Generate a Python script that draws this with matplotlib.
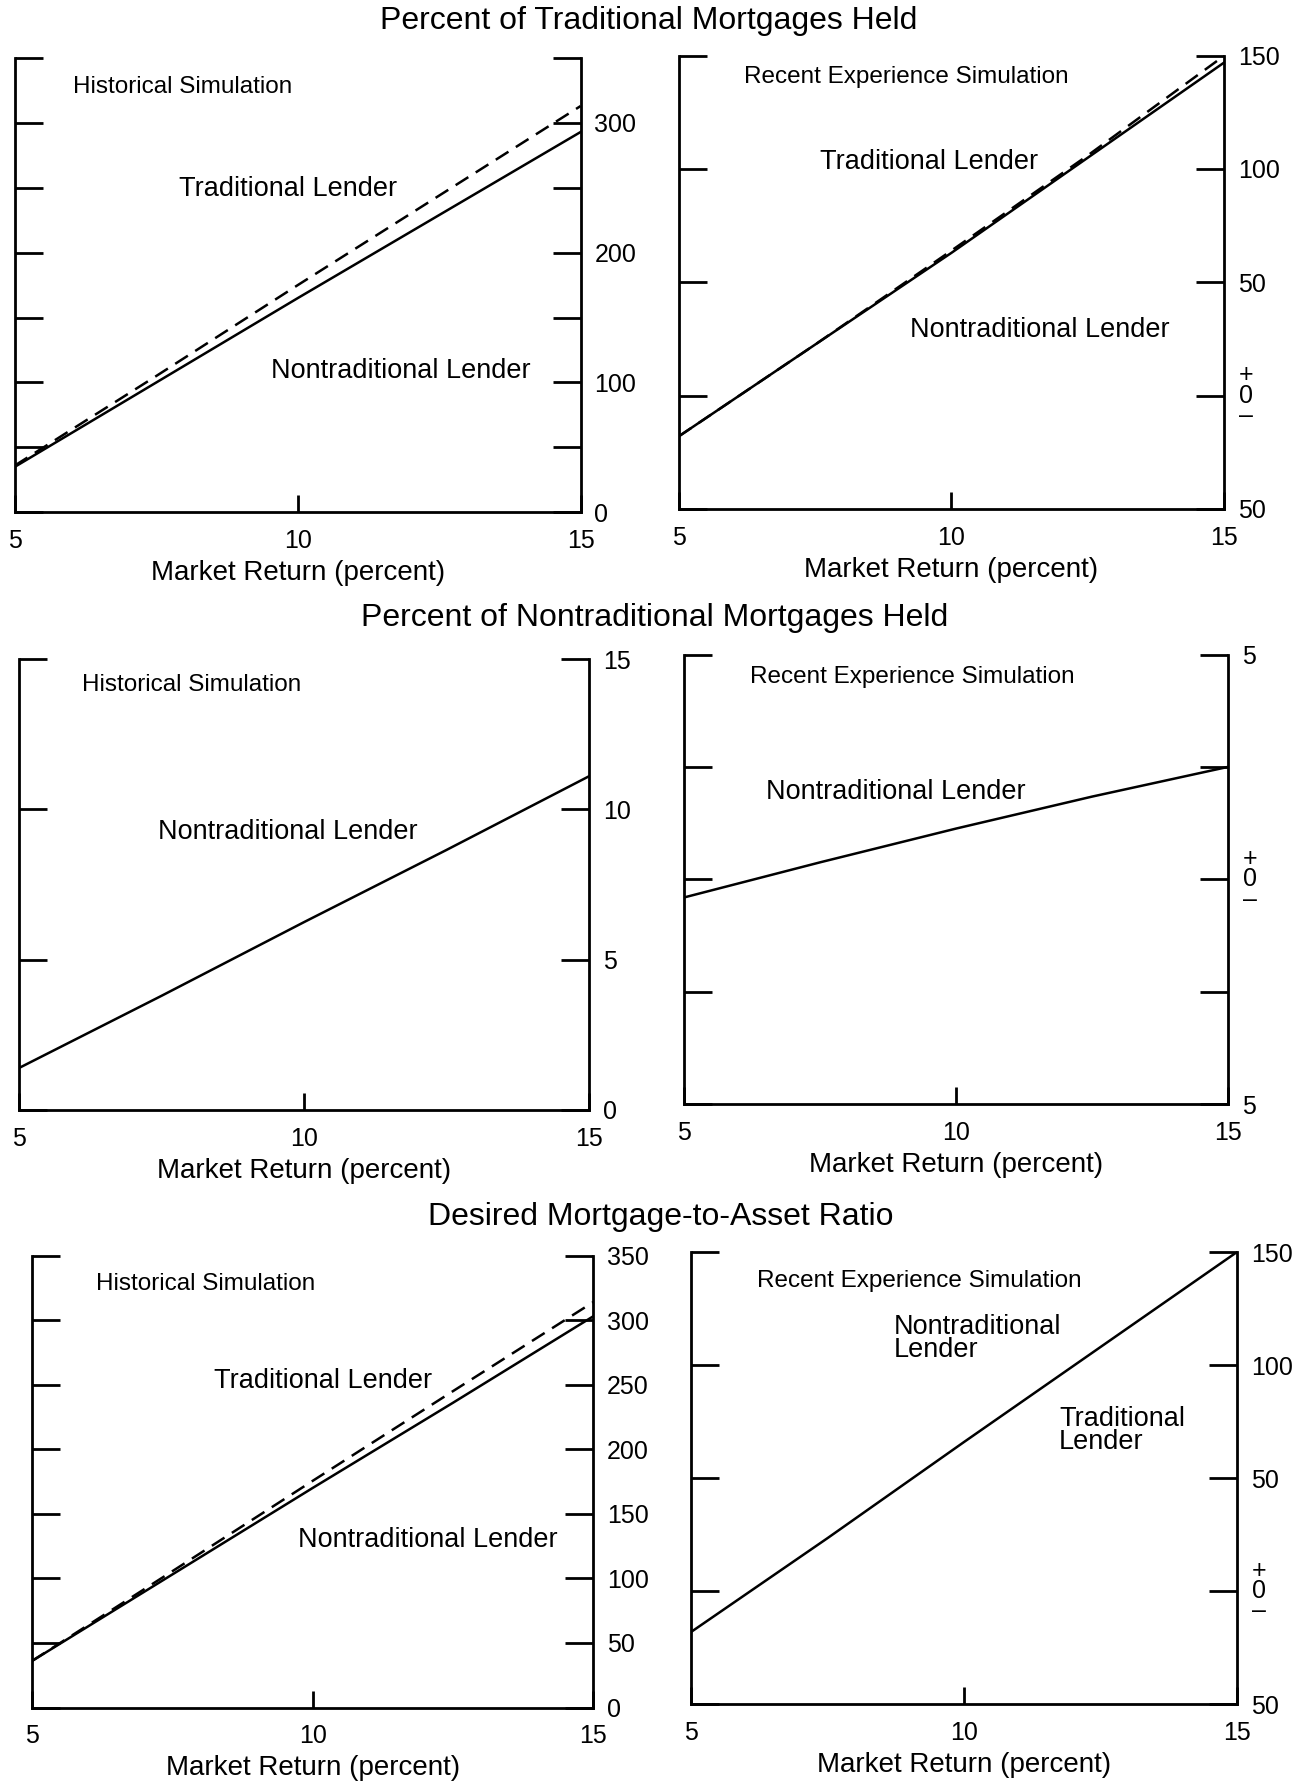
import matplotlib
matplotlib.use("Agg")
import matplotlib.pyplot as plt

plt.rcParams['font.family'] = ['Liberation Sans', 'DejaVu Sans']

# market return (percent)
market_return = [5, 7.5, 10, 12.5, 15]

# Percent of traditional mortgages held
trad_hist_solid = [35, 100, 165, 229, 293]
trad_hist_dashed = [36, 105, 175, 244, 313]
trad_recent_solid = [-18, 22.5, 63, 105, 147]
trad_recent_dashed = [-18, 22.5, 64, 106, 150]

# Percent of nontraditional mortgages held
nontrad_hist = [1.4, 3.8, 6.25, 8.65, 11.1]
nontrad_recent = [-0.4, 0.38, 1.13, 1.84, 2.5]

# Desired mortgage-to-asset ratio
ratio_hist_solid = [36, 103, 170, 236, 303]
ratio_hist_dashed = [36, 105.5, 175.5, 245, 314]
ratio_recent = [-18, 23.5, 66, 108, 150]

# y ticks and right-hand labels ('ZERO' = stacked "+0-" sign)
hist_trad_ticks = [0, 50, 100, 150, 200, 250, 300, 350]
hist_trad_labels = ['0', '', '100', '', '200', '', '300', '']
recent_ticks = [-50, 0, 50, 100, 150]
recent_labels = ['50', 'ZERO', '50', '100', '150']
hist_nontrad_ticks = [0, 5, 10, 15]
hist_nontrad_labels = ['0', '5', '10', '15']
recent_nontrad_ticks = [-5, -2.5, 0, 2.5, 5]
recent_nontrad_labels = ['5', '', 'ZERO', '', '5']
ratio_hist_ticks = [0, 50, 100, 150, 200, 250, 300, 350]
ratio_hist_labels = ['0', '50', '100', '150', '200', '250', '300', '350']

fig = plt.figure(figsize=(12.96, 17.85), dpi=100)


def panel(rect, ticks, labels, title_text, title_xy, notes):
    ax = fig.add_axes(rect)
    ax.set_xlim(5, 15)
    ax.set_ylim(ticks[0], ticks[-1])
    ax.spines['top'].set_visible(False)
    for s in ['left', 'right', 'bottom']:
        ax.spines[s].set_linewidth(2)
    ax.set_xticks([5, 10, 15], ['5', '10', '15'])
    ax.tick_params(axis='x', direction='in', length=12, width=2, pad=12, labelsize=18)
    shown = ['' if l == 'ZERO' else l for l in labels]
    ax.set_yticks(ticks, shown)
    ax.tick_params(axis='y', direction='in', length=20, width=2, pad=10,
                   left=True, right=True, labelleft=False, labelright=True,
                   labelsize=18)
    if 'ZERO' in labels:
        # stacked "+ / 0 / -" label at the zero line
        ax.annotate('+\n0\n\u2013', xy=(1, 0), xycoords=ax.get_yaxis_transform(),
                    xytext=(16, 0), textcoords='offset points',
                    ha='center', va='center', multialignment='center',
                    fontsize=18, linespacing=0.8)
    ax.set_xlabel('Market Return (percent)', fontsize=20, labelpad=5)
    ax.text(title_xy[0], title_xy[1], title_text, fontsize=17.5,
            ha='left', va='center')
    for x, y, txt, ha in notes:
        ax.text(x, y, txt, fontsize=19.5, ha=ha, va='center', linespacing=0.85)
    return ax


dash = (0, (6, 3.5))

# top row
ax = panel([0.0114, 0.713, 0.4366, 0.2545], hist_trad_ticks, hist_trad_labels,
           'Historical Simulation', (6.03, 328),
           [(9.83, 249, 'Traditional Lender', 'center'),
            (11.82, 109, 'Nontraditional Lender', 'center')])
ax.plot(market_return, trad_hist_solid, color='black', lw=1.8)
ax.plot(market_return, trad_hist_dashed, color='black', lw=1.8, linestyle=dash)

ax = panel([0.5237, 0.7149, 0.4209, 0.2539], recent_ticks, recent_labels,
           'Recent Experience Simulation', (6.2, 140.5),
           [(9.59, 103, 'Traditional Lender', 'center'),
            (11.62, 29, 'Nontraditional Lender', 'center')])
ax.plot(market_return, trad_recent_solid, color='black', lw=1.8)
ax.plot(market_return, trad_recent_dashed, color='black', lw=1.8, linestyle=dash)

# middle row
ax = panel([0.0149, 0.3782, 0.4394, 0.2525], hist_nontrad_ticks, hist_nontrad_labels,
           'Historical Simulation', (6.1, 14.13),
           [(9.72, 9.24, 'Nontraditional Lender', 'center')])
ax.plot(market_return, nontrad_hist, color='black', lw=1.8)

ax = panel([0.5281, 0.3814, 0.4192, 0.2519], recent_nontrad_ticks, recent_nontrad_labels,
           'Recent Experience Simulation', (6.2, 4.49),
           [(8.9, 1.94, 'Nontraditional Lender', 'center')])
ax.plot(market_return, nontrad_recent, color='black', lw=1.8)

# bottom row
ax = panel([0.0246, 0.0434, 0.4332, 0.2532], ratio_hist_ticks, ratio_hist_labels,
           'Historical Simulation', (6.15, 328),
           [(10.19, 253, 'Traditional Lender', 'center'),
            (12.06, 130, 'Nontraditional Lender', 'center')])
ax.plot(market_return, ratio_hist_solid, color='black', lw=1.8)
ax.plot(market_return, ratio_hist_dashed, color='black', lw=1.8, linestyle=dash)

ax = panel([0.5334, 0.0453, 0.4209, 0.2532], recent_ticks, recent_labels,
           'Recent Experience Simulation', (6.2, 137.4),
           [(8.72, 112, 'Nontraditional\nLender', 'left'),
            (11.74, 71, 'Traditional\nLender', 'left')])
ax.plot(market_return, ratio_recent, color='black', lw=1.8)

# section titles
fig.text(0.5009, 0.9885, 'Percent of Traditional Mortgages Held', fontsize=23,
         ha='center', va='center')
fig.text(0.505, 0.6537, 'Percent of Nontraditional Mortgages Held', fontsize=23,
         ha='center', va='center')
fig.text(0.5097, 0.3182, 'Desired Mortgage-to-Asset Ratio', fontsize=23,
         ha='center', va='center')

fig.savefig('out.png', dpi=100)
